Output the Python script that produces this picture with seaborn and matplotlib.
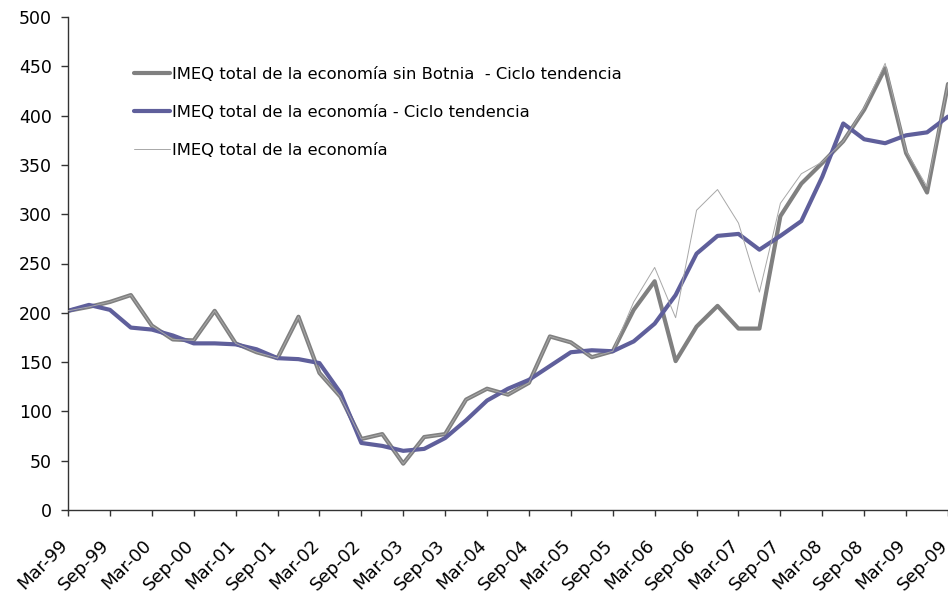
import numpy as np
import pandas as pd
import matplotlib
matplotlib.use('Agg')
import matplotlib.pyplot as plt
import matplotlib.transforms as mtrans
import seaborn as sns

# quarterly series, Mar-99 .. Sep-09
quarters = ['Mar-99', 'Jun-99', 'Sep-99', 'Dec-99', 'Mar-00', 'Jun-00', 'Sep-00', 'Dec-00',
            'Mar-01', 'Jun-01', 'Sep-01', 'Dec-01', 'Mar-02', 'Jun-02', 'Sep-02', 'Dec-02',
            'Mar-03', 'Jun-03', 'Sep-03', 'Dec-03', 'Mar-04', 'Jun-04', 'Sep-04', 'Dec-04',
            'Mar-05', 'Jun-05', 'Sep-05', 'Dec-05', 'Mar-06', 'Jun-06', 'Sep-06', 'Dec-06',
            'Mar-07', 'Jun-07', 'Sep-07', 'Dec-07', 'Mar-08', 'Jun-08', 'Sep-08', 'Dec-08',
            'Mar-09', 'Jun-09', 'Sep-09']

sin_botnia_ct = [202, 206, 211, 218, 187, 173, 172, 202, 169, 160, 154, 196, 139, 115, 72,
                 77, 47, 74, 77, 112, 123, 117, 129, 176, 170, 155, 161, 203, 232, 151,
                 186, 207, 184, 184, 298, 331, 352, 374, 406, 448, 362, 322, 432]

total_ct = [202, 208, 203, 185, 183, 177, 169, 169, 168, 163, 154, 153, 149, 119, 68,
            65, 60, 62, 73, 91, 111, 123, 132, 146, 160, 162, 161, 171, 189, 218,
            260, 278, 280, 264, 278, 293, 338, 392, 376, 372, 380, 383, 399]

total_raw = [202, 206, 211, 218, 187, 173, 172, 202, 169, 160, 154, 196, 139, 115, 72,
             77, 47, 74, 77, 112, 123, 117, 129, 176, 170, 155, 161, 211, 246, 195,
             304, 325, 291, 221, 311, 341, 353, 374, 408, 453, 364, 328, 432]

labels = ['IMEQ total de la economía sin Botnia  - Ciclo tendencia',
          'IMEQ total de la economía - Ciclo tendencia',
          'IMEQ total de la economía']

df = pd.DataFrame({'q': np.arange(len(quarters)),
                   'gris': sin_botnia_ct, 'azul': total_ct, 'fino': total_raw})

sns.set_style('white')
plt.rcParams['font.family'] = ['DejaVu Sans']
plt.rcParams['text.color'] = 'black'

fig = plt.figure(figsize=(9.48, 5.96), dpi=100)
ax = fig.add_axes([68 / 948, 1 - 510 / 596, 1 - 68 / 948, (510 - 17) / 596])

sns.lineplot(data=df, x='q', y='gris', ax=ax, color='#808080', lw=3, label=labels[0])
sns.lineplot(data=df, x='q', y='azul', ax=ax, color='#5f5f9b', lw=3, label=labels[1])
sns.lineplot(data=df, x='q', y='fino', ax=ax, color='#a8a8a8', lw=0.7, label=labels[2],
             zorder=3)

ax.set_xlim(0, len(quarters) - 1)
ax.set_ylim(0, 500)
ax.set_yticks(range(0, 501, 50))
ax.set_xticks(df['q'][::2])
ax.set_xticklabels(quarters[::2], rotation=45, ha='right', va='center',
                   rotation_mode='anchor')
ax.set_xlabel('')
ax.set_ylabel('')
ax.tick_params(axis='both', labelsize=12.5, width=1, color='#333333',
               labelcolor='black', direction='out', left=True, bottom=True)
ax.tick_params(axis='y', length=4.7, pad=7)
ax.tick_params(axis='x', length=4.5, pad=19, labelsize=13)
shift = mtrans.ScaledTranslation(-3 / 100, 0, fig.dpi_scale_trans)
for lab in ax.get_xticklabels():
    lab.set_transform(lab.get_transform() + shift)
for s in ['top', 'right']:
    ax.spines[s].set_visible(False)
for s in ['left', 'bottom']:
    ax.spines[s].set_color('#333333')
    ax.spines[s].set_linewidth(1)

leg = ax.legend(loc='upper left', bbox_to_anchor=(66 / 880, 0.899),
                bbox_transform=ax.transAxes, frameon=False, fontsize=11.8,
                handlelength=2.2, handletextpad=0.12, labelspacing=1.4,
                borderpad=0, borderaxespad=0)
for t in leg.get_texts():
    t.set_color('black')

fig.savefig('out.png', dpi=100)
